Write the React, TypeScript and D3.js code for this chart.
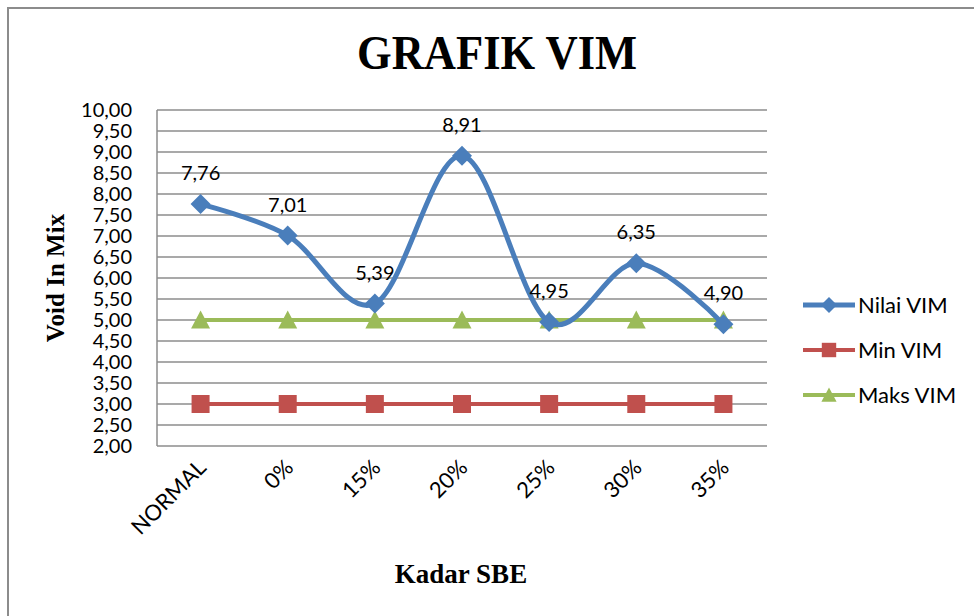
import React from 'react';
import * as d3 from 'd3';

const categories = ['NORMAL', '0%', '15%', '20%', '25%', '30%', '35%'];
const nilaiVIM = [7.76, 7.01, 5.39, 8.91, 4.95, 6.35, 4.9];
const minVIM = [3, 3, 3, 3, 3, 3, 3];
const maksVIM = [5, 5, 5, 5, 5, 5, 5];
const yTicks = [2, 2.5, 3, 3.5, 4, 4.5, 5, 5.5, 6, 6.5, 7, 7.5, 8, 8.5, 9, 9.5, 10];
const seriesNames = ['Nilai VIM', 'Min VIM', 'Maks VIM'];

const W = 974;
const H = 616;
const plot = { left: 157, right: 767, top: 110, bottom: 446 };
const GRID = '#8c8c8c';
const BLUE = '#4a7ebb';
const RED = '#c0504d';
const GREEN = '#9bbb59';
const SANS = 'Lato, "Open Sans", sans-serif';
const SERIF = '"Liberation Serif", "Times New Roman", serif';

const fmt = (v: number) => v.toFixed(2).replace('.', ',');

function Marker({ type, x, y, color, s = 1 }: { type: string; x: number; y: number; color: string; s?: number }) {
  if (type === 'diamond') {
    const r = 10 * s;
    return <path d={`M${x},${y - r}L${x + r},${y}L${x},${y + r}L${x - r},${y}Z`} fill={color} />;
  }
  if (type === 'square') {
    const h = 9 * s;
    return <rect x={x - h} y={y - h} width={2 * h} height={2 * h} fill={color} />;
  }
  const r = 9.5 * s;
  return <path d={`M${x},${y - r}L${x + r},${y + 8.5 * s}L${x - r},${y + 8.5 * s}Z`} fill={color} />;
}

export default function App() {
  const x = d3.scaleBand<string>().domain(categories).range([plot.left, plot.right]);
  const bw = x.bandwidth();
  const cx = (c: string) => (x(c) as number) + bw / 2;
  const y = d3.scaleLinear().domain([2, 10]).range([plot.bottom, plot.top]);

  const smooth = d3
    .line<number>()
    .x((_, i) => cx(categories[i]))
    .y((d) => y(d))
    .curve(d3.curveCatmullRom.alpha(0));
  const straight = d3
    .line<number>()
    .x((_, i) => cx(categories[i]))
    .y((d) => y(d));

  const series = [
    { name: seriesNames[0], data: nilaiVIM, color: BLUE, marker: 'diamond', path: smooth, width: 5 },
    { name: seriesNames[1], data: minVIM, color: RED, marker: 'square', path: straight, width: 4 },
    { name: seriesNames[2], data: maksVIM, color: GREEN, marker: 'triangle', path: straight, width: 4 },
  ];
  const drawOrder = [series[1], series[2], series[0]];
  const legendY = [305, 350, 395];

  return (
    <svg width={W} height={H} style={{ position: 'absolute', left: 0, top: 0, background: '#fff' }}>
      <rect x={0} y={0} width={W} height={H} fill="#fff" />
      <rect x={8} y={8} width={1100} height={800} fill="none" stroke={GRID} strokeWidth={2} />

      <text x={497} y={69} textAnchor="middle" fontFamily={SERIF} fontWeight="bold" fontSize={48} textLength={280} lengthAdjust="spacingAndGlyphs">
        GRAFIK VIM
      </text>

      {yTicks.map((t) => (
        <line key={t} x1={plot.left} x2={plot.right} y1={y(t)} y2={y(t)} stroke={GRID} strokeWidth={1.5} />
      ))}
      <line x1={plot.left} x2={plot.left} y1={plot.top} y2={plot.bottom} stroke={GRID} strokeWidth={1.5} />

      {yTicks.map((t) => (
        <text key={t} x={132} y={y(t)} dy="0.36em" textAnchor="end" fontFamily={SANS} fontSize={20}>
          {fmt(t)}
        </text>
      ))}

      {categories.map((c) => (
        <text key={c} transform={`translate(${cx(c) + 7},${469}) rotate(-45)`} textAnchor="end" fontFamily={SANS} fontSize={22}>
          {c}
        </text>
      ))}

      <text transform="translate(64,278) rotate(-90)" textAnchor="middle" fontFamily={SERIF} fontWeight="bold" fontSize={25}>
        Void In Mix
      </text>
      <text x={461} y={583} textAnchor="middle" fontFamily={SERIF} fontWeight="bold" fontSize={27}>
        Kadar SBE
      </text>

      {drawOrder.map((s) => (
        <g key={s.name}>
          <path d={s.path(s.data) as string} fill="none" stroke={s.color} strokeWidth={s.width} />
          {s.data.map((v, i) => (
            <Marker key={i} type={s.marker} x={cx(categories[i])} y={y(v)} color={s.color} />
          ))}
        </g>
      ))}

      {nilaiVIM.map((v, i) => (
        <text key={i} x={cx(categories[i])} y={y(v) - 24} textAnchor="middle" fontFamily={SANS} fontSize={20}>
          {fmt(v)}
        </text>
      ))}

      {series.map((s, i) => (
        <g key={s.name}>
          <line x1={803} x2={855} y1={legendY[i]} y2={legendY[i]} stroke={s.color} strokeWidth={s.width} />
          <Marker type={s.marker} x={829} y={legendY[i]} color={s.color} s={0.8} />
          <text x={858} y={legendY[i]} dy="0.36em" fontFamily={SANS} fontSize={22}>
            {s.name}
          </text>
        </g>
      ))}
    </svg>
  );
}
